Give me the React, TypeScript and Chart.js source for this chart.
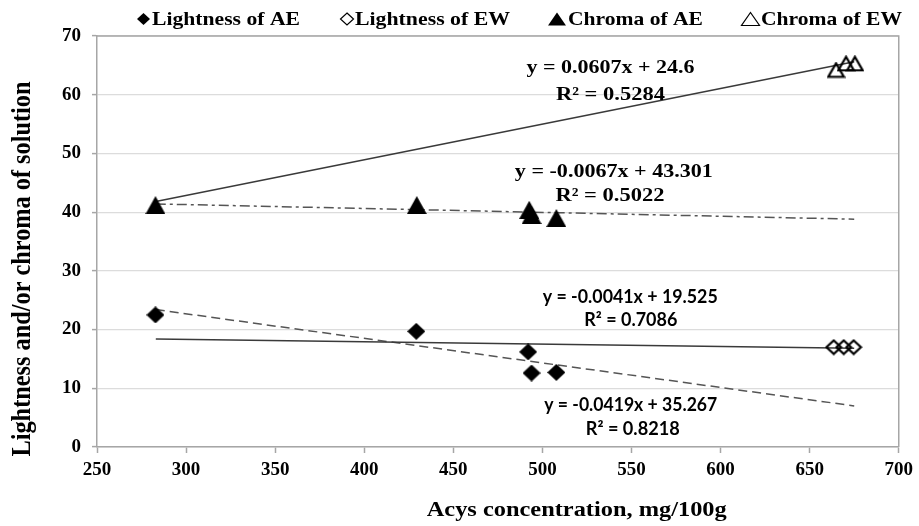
import React, { useEffect, useRef } from 'react';
import { Chart, registerables } from 'chart.js';

Chart.register(...registerables);

// ---------- data ----------
const xTicks = [250, 300, 350, 400, 450, 500, 550, 600, 650, 700];
const yTicks = [0, 10, 20, 30, 40, 50, 60, 70];

const seriesNames = ['Lightness of AE', 'Lightness of EW', 'Chroma of AE', 'Chroma of EW'];

const lightnessAEx = [282.8, 429.2, 492.0, 493.9, 507.8];
const lightnessAEy = [22.5, 19.7, 16.2, 12.6, 12.7];

const lightnessEWx = [663.5, 669.1, 674.7];
const lightnessEWy = [17.0, 17.0, 17.0];

const chromaAEx = [282.8, 429.5, 492.6, 493.9, 507.8];
const chromaAEy = [41.2, 41.2, 40.4, 39.5, 39.0];

const chromaEWx = [664.8, 670.4, 675.4];
const chromaEWy = [64.2, 65.3, 65.3];

// trend lines (end points)
const trendChromaAllX = [283, 675];
const trendChromaAllY = [41.8, 65.6];
const trendChromaAEX = [283, 675];
const trendChromaAEY = [41.4, 38.8];
const trendLightAllX = [283, 675];
const trendLightAllY = [18.4, 16.8];
const trendLightAEX = [283, 675];
const trendLightAEY = [23.4, 7.0];

const equationLines = [
  'y = 0.0607x + 24.6',
  'y = -0.0067x + 43.301',
  'y = -0.0041x + 19.525',
  'y = -0.0419x + 35.267',
];
const r2Lines = ['R² = 0.5284', 'R² = 0.5022', 'R² = 0.7086', 'R² = 0.8218'];

const xTitle = 'Acys concentration, mg/100g';
const yTitle = 'Lightness and/or chroma of solution';

// ---------- layout / style ----------
const SERIF = "'Liberation Serif', 'Times New Roman', serif";
const SANS = "Lato, 'Liberation Sans', sans-serif";
const AXIS_GRAY = '#a6a6a6';
const GRID_GRAY = '#dcdcdc';

// annotation anchors in data coordinates, font kind, target widths
const annotationLayout = [
  { eq: [538.2, 64.5], r2: [538.2, 60.0], sans: false, eqW: 168, r2W: 109 },
  { eq: [540.1, 46.9], r2: [537.9, 42.75], sans: false, eqW: 198, r2W: 109 },
  { eq: [549.3, 25.6], r2: [549.6, 21.6], sans: true, eqW: 175, r2W: 93 },
  { eq: [549.6, 7.15], r2: [550.7, 3.0], sans: true, eqW: 173, r2W: 94 },
];

const legendLayout = [
  { marker: 'diamond', filled: true, mx: 143.5, mw: 13, mh: 12, tx: 152, tw: 148 },
  { marker: 'diamond', filled: false, mx: 347, mw: 13, mh: 12, tx: 355, tw: 155 },
  { marker: 'triangle', filled: true, mx: 557, mw: 18, mh: 13, tx: 568, tw: 135 },
  { marker: 'triangle', filled: false, mx: 750.5, mw: 18, mh: 13, tx: 761, tw: 141 },
];

function pts(xs: number[], ys: number[]) {
  return xs.map((x, i) => ({ x, y: ys[i] }));
}

function shapePath(g: CanvasRenderingContext2D, kind: string, cx: number, cy: number, w: number, h: number) {
  g.beginPath();
  if (kind === 'diamond') {
    g.moveTo(cx, cy - h / 2);
    g.lineTo(cx + w / 2, cy);
    g.lineTo(cx, cy + h / 2);
    g.lineTo(cx - w / 2, cy);
  } else {
    g.moveTo(cx, cy - h / 2);
    g.lineTo(cx + w / 2, cy + h / 2);
    g.lineTo(cx - w / 2, cy + h / 2);
  }
  g.closePath();
}

function makeMarker(kind: string, filled: boolean, w: number, h: number) {
  const c = document.createElement('canvas');
  c.width = w;
  c.height = h;
  const g = c.getContext('2d')!;
  if (filled) {
    shapePath(g, kind, w / 2, h / 2, w, h);
    g.fillStyle = '#000';
    g.fill();
  } else {
    const lw = 2.2;
    shapePath(g, kind, w / 2, h / 2, w - lw * 1.6, h - lw * 1.6);
    g.lineWidth = lw;
    g.strokeStyle = '#000';
    g.stroke();
  }
  return c;
}

function drawFit(
  ctx: CanvasRenderingContext2D,
  text: string,
  x: number,
  y: number,
  font: string,
  targetW: number,
  align: CanvasTextAlign,
  baseline: CanvasTextBaseline,
  rotate = 0
) {
  ctx.save();
  ctx.font = font;
  const w = ctx.measureText(text).width;
  ctx.translate(x, y);
  if (rotate) ctx.rotate(rotate);
  ctx.scale(targetW / w, 1);
  ctx.textAlign = align;
  ctx.textBaseline = baseline;
  ctx.fillStyle = '#000';
  ctx.fillText(text, 0, 0);
  ctx.restore();
}

const overlayPlugin = {
  id: 'overlay',
  afterDatasetsDraw(chart: any) {
    const { ctx, chartArea, scales } = chart;
    // plot border (top & right)
    ctx.save();
    ctx.strokeStyle = AXIS_GRAY;
    ctx.lineWidth = 1.5;
    ctx.beginPath();
    ctx.moveTo(chartArea.left, chartArea.top);
    ctx.lineTo(chartArea.right, chartArea.top);
    ctx.lineTo(chartArea.right, chartArea.bottom);
    ctx.stroke();
    ctx.restore();

    // trend-line equations
    annotationLayout.forEach((a, i) => {
      const font = a.sans ? `bold 18px ${SANS}` : `bold 19px ${SERIF}`;
      drawFit(ctx, equationLines[i], scales.x.getPixelForValue(a.eq[0]), scales.y.getPixelForValue(a.eq[1]), font, a.eqW, 'center', 'middle');
      drawFit(ctx, r2Lines[i], scales.x.getPixelForValue(a.r2[0]), scales.y.getPixelForValue(a.r2[1]), font, a.r2W, 'center', 'middle');
    });
  },
  afterDraw(chart: any) {
    const { ctx } = chart;
    // legend
    legendLayout.forEach((l, i) => {
      ctx.save();
      shapePath(ctx, l.marker, l.mx, 19, l.mw, l.mh);
      if (l.filled) {
        ctx.fillStyle = '#000';
        ctx.fill();
      } else {
        ctx.strokeStyle = '#000';
        ctx.lineWidth = 1.2;
        ctx.stroke();
      }
      ctx.restore();
      drawFit(ctx, seriesNames[i], l.tx, 25, `bold 19px ${SERIF}`, l.tw, 'left', 'alphabetic');
    });
    // axis titles
    drawFit(ctx, xTitle, 576.7, 510, `bold 22px ${SERIF}`, 300, 'center', 'middle');
    drawFit(ctx, yTitle, 23, 269, `bold 27px ${SERIF}`, 375, 'center', 'middle', -Math.PI / 2);
  },
};

export default function App() {
  const ref = useRef<HTMLCanvasElement | null>(null);

  useEffect(() => {
    if (!ref.current) return;
    const mDiamond = makeMarker('diamond', true, 18, 17);
    const mDiamondO = makeMarker('diamond', false, 18, 17);
    const mTri = makeMarker('triangle', true, 20, 18);
    const mTriO = makeMarker('triangle', false, 19, 17);

    const markerSet = (label: string, data: any[], style: any) => ({
      label,
      data,
      showLine: false,
      pointStyle: style,
      pointRadius: 6,
      borderColor: '#000',
      backgroundColor: '#000',
    });
    const trendSet = (label: string, data: any[], dash: number[], color: string) => ({
      label,
      data,
      showLine: true,
      pointRadius: 0,
      borderColor: color,
      borderWidth: 1.5,
      borderDash: dash,
      fill: false,
    });

    const chart = new Chart(ref.current, {
      type: 'scatter',
      data: {
        datasets: [
          markerSet(seriesNames[0], pts(lightnessAEx, lightnessAEy), mDiamond),
          markerSet(seriesNames[1], pts(lightnessEWx, lightnessEWy), mDiamondO),
          markerSet(seriesNames[2], pts(chromaAEx, chromaAEy), mTri),
          markerSet(seriesNames[3], pts(chromaEWx, chromaEWy), mTriO),
          trendSet('Chroma trend', pts(trendChromaAllX, trendChromaAllY), [], '#3a3a3a'),
          trendSet('Chroma AE trend', pts(trendChromaAEX, trendChromaAEY), [10, 4, 3, 4], '#555'),
          trendSet('Lightness trend', pts(trendLightAllX, trendLightAllY), [], '#3a3a3a'),
          trendSet('Lightness AE trend', pts(trendLightAEX, trendLightAEY), [9, 5], '#555'),
        ] as any,
      },
      options: {
        responsive: false,
        animation: false,
        devicePixelRatio: 1,
        events: [],
        layout: { padding: { left: 0, right: 17, top: 36, bottom: 0 } },
        plugins: {
          legend: { display: false },
          tooltip: { enabled: false },
          title: { display: false },
        },
        scales: {
          x: {
            type: 'linear',
            min: xTicks[0],
            max: xTicks[xTicks.length - 1],
            afterBuildTicks: (s: any) => {
              s.ticks = xTicks.map((v) => ({ value: v }));
            },
            afterFit: (s: any) => {
              s.height = 79;
            },
            ticks: {
              color: '#000',
              font: { family: SERIF, size: 19, weight: 'bold' },
              padding: 6,
              maxRotation: 0,
              autoSkip: false,
            },
            grid: {
              drawOnChartArea: false,
              drawTicks: true,
              tickLength: 6,
              tickColor: AXIS_GRAY,
              tickWidth: 1.5,
            },
            border: { color: AXIS_GRAY, width: 1.5 },
          },
          y: {
            type: 'linear',
            min: yTicks[0],
            max: yTicks[yTicks.length - 1],
            afterBuildTicks: (s: any) => {
              s.ticks = yTicks.map((v) => ({ value: v }));
            },
            afterFit: (s: any) => {
              s.width = 97;
            },
            ticks: {
              color: '#000',
              font: { family: SERIF, size: 19, weight: 'bold' },
              padding: 11,
              autoSkip: false,
            },
            grid: {
              color: GRID_GRAY,
              lineWidth: 1.2,
              drawTicks: true,
              tickLength: 5,
              tickColor: AXIS_GRAY,
              tickWidth: 1.5,
            },
            border: { color: AXIS_GRAY, width: 1.5 },
          },
        },
      } as any,
      plugins: [overlayPlugin],
    });
    return () => chart.destroy();
  }, []);

  return (
    <div style={{ position: 'fixed', left: 0, top: 0, width: 919, height: 526, background: '#fff' }}>
      <canvas ref={ref} width={919} height={526} style={{ display: 'block' }} />
    </div>
  );
}
